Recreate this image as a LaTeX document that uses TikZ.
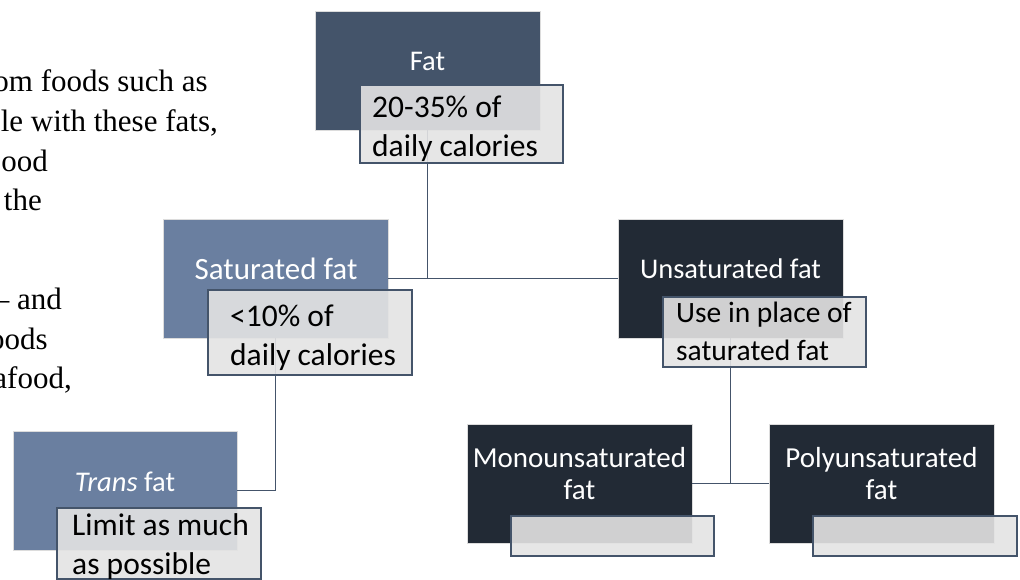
\documentclass[tikz,border=0pt]{standalone}
\usepackage{fontspec}
\setmainfont{Liberation Serif}
\newfontfamily\calfont{Carlito}
\definecolor{fatc}{HTML}{44546A}
\definecolor{satc}{HTML}{6A7FA0}
\definecolor{unsc}{HTML}{222A35}
\definecolor{edgec}{HTML}{DCDCDC}
\definecolor{lblc}{HTML}{E3E3E3}
\definecolor{linec}{HTML}{44546A}
\tikzset{
  catbox/.style={draw=edgec, line width=0.8pt, anchor=north west, inner sep=0pt, outer sep=0pt, minimum width=225pt, minimum height=119pt},
  lblbox/.style={draw=linec, line width=1.4pt, fill=lblc, fill opacity=0.9, anchor=north west, inner sep=0pt, outer sep=0pt, minimum width=203pt},
  title/.style={text=white, font=\calfont\fontsize{28.5}{32}\selectfont, inner sep=0pt, anchor=base},
  lbltext/.style={text=black, font=\calfont\fontsize{31.5}{39}\selectfont, inner sep=0pt, anchor=base west},
  doctext/.style={text=black, font=\fontsize{31}{40}\selectfont, inner sep=0pt, anchor=base east},
  conn/.style={draw=linec, line width=1.8pt}
}
\begin{document}
\begin{tikzpicture}[x=1pt,y=-1pt]
\useasboundingbox (0,0) rectangle (1020,580);
\clip (0,0) rectangle (1020,580);
% document text cut at the left
\node[doctext] (d1) at (208,91.5) {om foods such as};
\node[doctext] (d2) at (218,131.5) {le with these fats,};
\node[doctext] (d3) at (48,171.5) {ood};
\node[doctext] (d4) at (42,211) {the};
\node[doctext] (d5) at (62,309) {\textendash{} and};
\node[doctext] (d6) at (48,349) {oods};
\node[doctext] (d7) at (72,388) {afood,};
% category boxes
\node[catbox, fill=fatc] (fat) at (315,11) {};
\node[catbox, fill=satc] (sat) at (163,219) {};
\node[catbox, fill=unsc] (uns) at (618,219) {};
\node[catbox, fill=satc, minimum width=224pt] (trans) at (13,431) {};
\node[catbox, fill=unsc] (mono) at (467,424) {};
\node[catbox, fill=unsc] (poly) at (769,424) {};
% titles
\node[title] (fatT) at (427.5,71) {Fat};
\node[title, font=\calfont\fontsize{31}{36}\selectfont] (satT) at (276,279) {Saturated fat};
\node[title] (unsT) at (730.5,278) {Unsaturated fat};
\node[title] (transT) at (125,491) {\itshape Trans\upshape{} fat};
\node[title, font=\calfont\fontsize{29}{32}\selectfont] (monoT) at (579.5,467) {\vtop{\hbox to 0pt{\hss Monounsaturated\hss}\hbox to 0pt{\hss fat\hss}}};
\node[title, font=\calfont\fontsize{29}{32}\selectfont] (polyT) at (881.5,467) {\vtop{\hbox to 0pt{\hss Polyunsaturated\hss}\hbox to 0pt{\hss fat\hss}}};
% connectors
\draw[conn] (fat.south) -- (fat.south |- sat.east);
\draw[conn] (sat.east) -- (uns.west);
\draw[conn] (sat.south) |- (trans.east);
\draw[conn] (uns.south) -- (uns.south |- mono.east);
\draw[conn] (mono.east) -- (poly.west);
% label boxes
\node[lblbox, minimum height=78pt] (fatL) at (360,85) {};
\node[lblbox, minimum width=204pt, minimum height=85pt] (satL) at (208,290) {};
\node[lblbox, minimum height=70pt] (unsL) at (663,297) {};
\node[lblbox, minimum width=204pt, minimum height=71pt] (transL) at (57,508) {};
\node[lblbox, minimum height=40pt] (monoL) at (511,516) {};
\node[lblbox, minimum width=204pt, minimum height=40pt] (polyL) at (813,516) {};
% label texts
\node[lbltext] (fatLT) at (372,118) {\vtop{\hbox{20-35\% of}\hbox{daily calories}}};
\node[lbltext] (satLT) at (230,326) {\vtop{\hbox{<10\% of}\hbox{daily calories}}};
\node[lbltext, font=\calfont\fontsize{29.5}{38}\selectfont] (unsLT) at (676,322) {\vtop{\hbox{Use in place of}\hbox{saturated fat}}};
\node[lbltext] (transLT) at (72,535) {\vtop{\hbox{Limit as much}\hbox{as possible}}};
\end{tikzpicture}
\end{document}
